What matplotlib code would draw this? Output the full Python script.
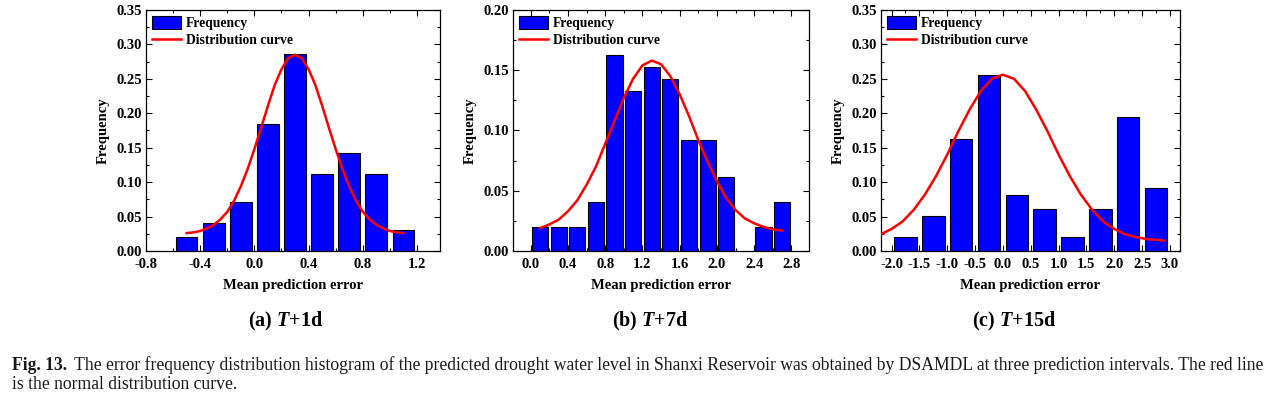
import numpy as np
import matplotlib
matplotlib.use("Agg")
import matplotlib.pyplot as plt
from matplotlib.ticker import MultipleLocator, AutoMinorLocator, FormatStrFormatter

# ============================================================
# Data (frequency = count / 98)
# ============================================================
# (a) T+1d
a_centers = [-0.5, -0.3, -0.1, 0.1, 0.3, 0.5, 0.7, 0.9, 1.1]
a_freq = [0.020, 0.041, 0.071, 0.184, 0.286, 0.112, 0.143, 0.112, 0.031]
a_curve_x = [-0.50, -0.45, -0.40, -0.35, -0.30, -0.25, -0.20, -0.15, -0.10, -0.05,
             0.00, 0.05, 0.10, 0.15, 0.20, 0.25, 0.30, 0.35, 0.40, 0.45, 0.50,
             0.55, 0.60, 0.65, 0.70, 0.75, 0.80, 0.85, 0.90, 0.95, 1.00, 1.05, 1.10]
a_curve_y = [0.026, 0.027, 0.029, 0.033, 0.038, 0.046, 0.057, 0.073, 0.094, 0.119,
             0.148, 0.179, 0.211, 0.241, 0.264, 0.280, 0.285, 0.280, 0.264, 0.241, 0.211,
             0.179, 0.148, 0.119, 0.094, 0.073, 0.057, 0.046, 0.038, 0.033, 0.029, 0.027, 0.026]

# (b) T+7d
b_centers = [0.1, 0.3, 0.5, 0.7, 0.9, 1.1, 1.3, 1.5, 1.7, 1.9, 2.1, 2.5, 2.7]
b_freq = [0.020, 0.020, 0.020, 0.041, 0.163, 0.133, 0.153, 0.143, 0.092, 0.092, 0.061, 0.020, 0.041]
b_curve_x = [0.1, 0.2, 0.3, 0.4, 0.5, 0.6, 0.7, 0.8, 0.9, 1.0, 1.1, 1.2, 1.3, 1.4,
             1.5, 1.6, 1.7, 1.8, 1.9, 2.0, 2.1, 2.2, 2.3, 2.4, 2.5, 2.6, 2.7]
b_curve_y = [0.019, 0.022, 0.026, 0.033, 0.042, 0.055, 0.070, 0.089, 0.108, 0.127, 0.143,
             0.154, 0.158, 0.155, 0.145, 0.130, 0.112, 0.092, 0.074, 0.058, 0.044,
             0.034, 0.027, 0.023, 0.020, 0.018, 0.017]

# (c) T+15d
c_centers = [-1.75, -1.25, -0.75, -0.25, 0.25, 0.75, 1.25, 1.75, 2.25, 2.75]
c_freq = [0.020, 0.051, 0.163, 0.255, 0.082, 0.061, 0.020, 0.061, 0.194, 0.092]
c_curve_x = [-2.2, -2.0, -1.8, -1.6, -1.4, -1.2, -1.0, -0.8, -0.6, -0.4, -0.2, 0.0,
             0.2, 0.4, 0.6, 0.8, 1.0, 1.2, 1.4, 1.6, 1.8, 2.0, 2.2, 2.4, 2.6, 2.8, 2.9]
c_curve_y = [0.024, 0.032, 0.043, 0.060, 0.082, 0.109, 0.140, 0.174, 0.205, 0.232, 0.250, 0.256,
             0.250, 0.232, 0.205, 0.174, 0.140, 0.109, 0.082, 0.060, 0.043, 0.032, 0.024,
             0.020, 0.017, 0.016, 0.015]

panel_labels = ["(a) ", "(b) ", "(c) "]
panel_suffix = ["+1d", "+7d", "+15d"]

caption_bold = "Fig. 13."
caption_line1 = ("The error frequency distribution histogram of the predicted drought water level in "
                 "Shanxi Reservoir was obtained by DSAMDL at three prediction intervals. The red line")
caption_line2 = "is the normal distribution curve."

# ============================================================
# Style
# ============================================================
plt.rcParams['font.family'] = ['Liberation Serif', 'DejaVu Serif']
plt.rcParams['font.weight'] = 'bold'
plt.rcParams['mathtext.fontset'] = 'custom'
plt.rcParams['mathtext.it'] = 'Liberation Serif:italic:bold'
plt.rcParams['mathtext.rm'] = 'Liberation Serif:bold'

fig = plt.figure(figsize=(12.82, 3.95), dpi=100)

panels = [
    dict(pos=[0.1139, 0.3646, 0.2293, 0.6101], centers=a_centers, freq=a_freq, width=0.16,
         cx=a_curve_x, cy=a_curve_y, xlim=(-0.80, 1.37), ylim=(0, 0.35), xmaj=0.4, lab_x=0.2225),
    dict(pos=[0.4002, 0.3646, 0.2309, 0.6101], centers=b_centers, freq=b_freq, width=0.174,
         cx=b_curve_x, cy=b_curve_y, xlim=(-0.19, 2.99), ylim=(0, 0.20), xmaj=0.4, lab_x=0.507),
    dict(pos=[0.6872, 0.3646, 0.2332, 0.6101], centers=c_centers, freq=c_freq, width=0.405,
         cx=c_curve_x, cy=c_curve_y, xlim=(-2.19, 3.18), ylim=(0, 0.35), xmaj=0.5, lab_x=0.791),
]

for i, p in enumerate(panels):
    ax = fig.add_axes(p['pos'])
    bars = ax.bar(p['centers'], p['freq'], width=p['width'], color='#0000FF',
                  edgecolor='black', linewidth=0.8, label='Frequency', zorder=2)
    line, = ax.plot(p['cx'], p['cy'], color='#FF0000', lw=1.8, label='Distribution curve', zorder=3)

    ax.set_xlim(*p['xlim'])
    ax.set_ylim(*p['ylim'])
    ax.xaxis.set_major_locator(MultipleLocator(p['xmaj']))
    ax.xaxis.set_minor_locator(AutoMinorLocator(2))
    ax.yaxis.set_major_locator(MultipleLocator(0.05))
    ax.yaxis.set_minor_locator(AutoMinorLocator(2))
    ax.yaxis.set_major_formatter(FormatStrFormatter('%.2f'))
    ax.xaxis.set_major_formatter(FormatStrFormatter('%.1f'))
    ax.tick_params(which='both', direction='in', top=True, right=True, width=0.8,
                   labelsize=10.5)
    ax.tick_params(axis='x', which='major', pad=5)
    ax.tick_params(axis='y', which='major', pad=3)
    ax.tick_params(which='major', length=4)
    ax.tick_params(which='minor', length=2.5)
    for s in ax.spines.values():
        s.set_linewidth(0.9)
    for lab in ax.get_xticklabels() + ax.get_yticklabels():
        lab.set_fontweight('bold')

    ax.set_xlabel('Mean prediction error', fontsize=10.5, fontweight='bold', labelpad=6)
    ax.set_ylabel('Frequency', fontsize=10.5, fontweight='bold', labelpad=5)

    ax.legend([bars, line], ['Frequency', 'Distribution curve'],
              loc='upper left', bbox_to_anchor=(0, 1), frameon=False, fontsize=9.8,
              handlelength=2.1, handleheight=1.1, handletextpad=0.4,
              borderaxespad=0.25, borderpad=0.2, labelspacing=0.2)

    fig.text(p['lab_x'], 0.185, panel_labels[i] + r'$\mathit{T}$' + panel_suffix[i],
             ha='center', va='center', fontsize=14.5, fontweight='bold')

# Caption
cap = fig.text(0.0094, 0.075, caption_bold, ha='left', va='center', fontsize=12.7,
               fontweight='bold', color='#1a1a1a')
fig.axes[0].annotate(caption_line1, xy=(1, 0.5), xycoords=cap, xytext=(5, 0),
                     textcoords='offset points', ha='left', va='center', fontsize=12.7,
                     fontweight='normal', color='#1a1a1a', annotation_clip=False)
fig.text(0.0094, 0.027, caption_line2, ha='left', va='center', fontsize=12.7,
         fontweight='normal', color='#1a1a1a')

plt.savefig("out.png", dpi=100)
